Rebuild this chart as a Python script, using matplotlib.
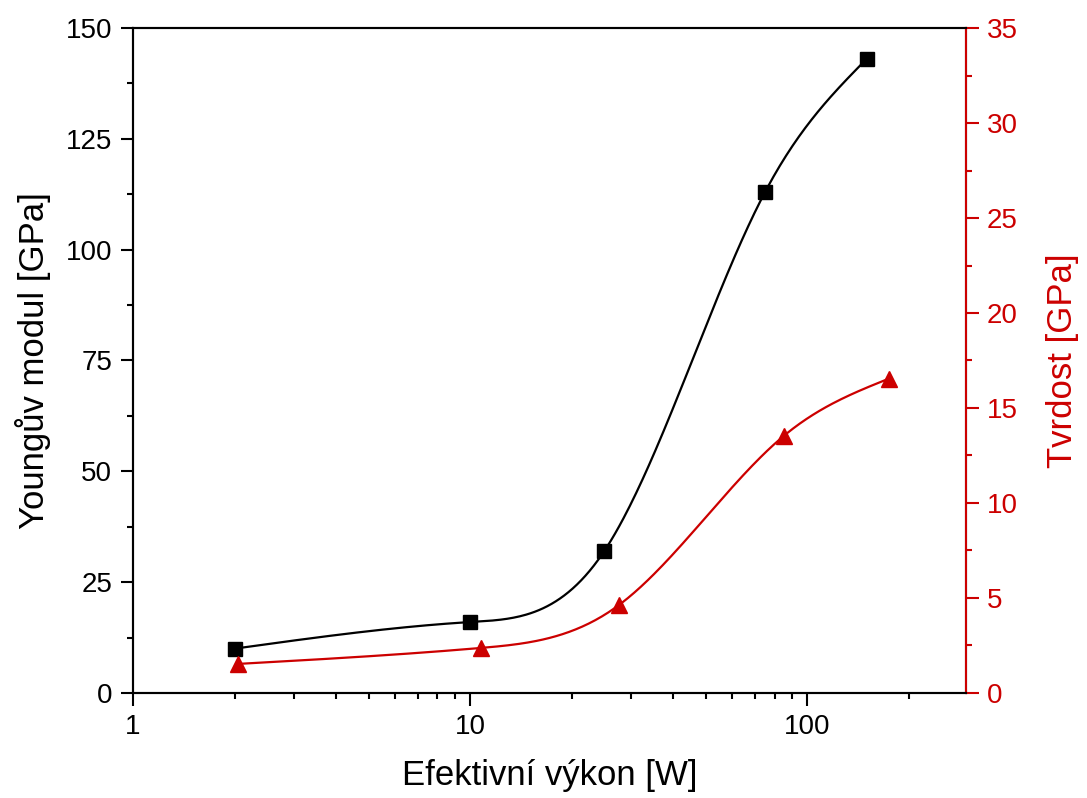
import numpy as np
import matplotlib
matplotlib.use("Agg")
import matplotlib.pyplot as plt
from matplotlib.ticker import LogLocator, MultipleLocator, NullFormatter

plt.rcParams['font.family'] = ['Liberation Sans', 'DejaVu Sans']

# Data
vykon_e = [2.0, 10.0, 25.0, 75.0, 150.0]
young = [10.0, 16.0, 32.0, 113.0, 143.0]
vykon_h = [2.05, 10.75, 27.6, 85.5, 175.0]
tvrdost = [1.53, 2.37, 4.62, 13.55, 16.55]

cervena = '#CC0000'


# Přirozený kubický spline v log(x) – jen pro hladkou spojnici
def spline(x, y, n=300):
    t = np.log10(np.asarray(x))
    y = np.asarray(y)
    k = len(t)
    h = np.diff(t)
    A = np.zeros((k, k))
    b = np.zeros(k)
    A[0, 0] = 1
    A[-1, -1] = 1
    for i in range(1, k - 1):
        A[i, i - 1] = h[i - 1]
        A[i, i] = 2 * (h[i - 1] + h[i])
        A[i, i + 1] = h[i]
        b[i] = 6 * ((y[i + 1] - y[i]) / h[i] - (y[i] - y[i - 1]) / h[i - 1])
    M = np.linalg.solve(A, b)
    tt = np.linspace(t[0], t[-1], n)
    yy = np.zeros(n)
    for j, tv in enumerate(tt):
        i = min(np.searchsorted(t, tv, side='right') - 1, k - 2)
        a = t[i + 1] - tv
        c = tv - t[i]
        yy[j] = (M[i] * a**3 + M[i + 1] * c**3) / (6 * h[i]) \
            + (y[i] / h[i] - M[i] * h[i] / 6) * a \
            + (y[i + 1] / h[i] - M[i + 1] * h[i] / 6) * c
    return 10**tt, yy


fig = plt.figure(figsize=(10.87, 7.98), dpi=100)
ax = fig.add_axes([0.1224, 0.1316, 0.7663, 0.8333])
ax2 = ax.twinx()

xs, ys = spline(vykon_e, young)
ax.plot(xs, ys, color='black', lw=1.6)
ax.plot(vykon_e, young, 's', color='black', markersize=10)

xs, ys = spline(vykon_h, tvrdost)
ax2.plot(xs, ys, color=cervena, lw=1.6)
ax2.plot(vykon_h, tvrdost, '^', color=cervena, markersize=12)

ax.set_xscale('log')
ax.set_xlim(1, 296)
ax.set_ylim(0, 150)
ax2.set_ylim(0, 35)

ax.xaxis.set_minor_locator(LogLocator(base=10, subs=np.arange(2, 10), numticks=20))
ax.xaxis.set_minor_formatter(NullFormatter())
ax.set_xticks([1, 10, 100])
ax.set_xticklabels(['1', '10', '100'])
ax.yaxis.set_major_locator(MultipleLocator(25))
ax.yaxis.set_minor_locator(MultipleLocator(12.5))
ax2.yaxis.set_major_locator(MultipleLocator(5))
ax2.yaxis.set_minor_locator(MultipleLocator(2.5))

for a in (ax, ax2):
    for s in a.spines.values():
        s.set_linewidth(1.5)
ax.tick_params(which='major', direction='out', length=9, width=1.5, labelsize=20, pad=6)
ax.tick_params(which='minor', direction='out', length=4.5, width=1.5)
ax.tick_params(axis='x', which='both', top=False)
ax2.tick_params(which='major', direction='out', length=9, width=1.5, labelsize=20,
                colors=cervena, pad=6)
ax2.tick_params(which='minor', direction='out', length=4.5, width=1.5, colors=cervena)
ax2.spines['right'].set_color(cervena)
ax2.spines['top'].set_color('black')

ax.set_xlabel('Efektivní výkon [W]', fontsize=25)
ax.set_ylabel('Youngův modul [GPa]', fontsize=25)
ax2.set_ylabel('Tvrdost [GPa]', fontsize=25, color=cervena)
ax.xaxis.set_label_coords(0.5, -0.1)
ax.yaxis.set_label_coords(-0.098, 0.5)
ax2.yaxis.set_label_coords(1.096, 0.5)

fig.savefig('out.png', dpi=100)
